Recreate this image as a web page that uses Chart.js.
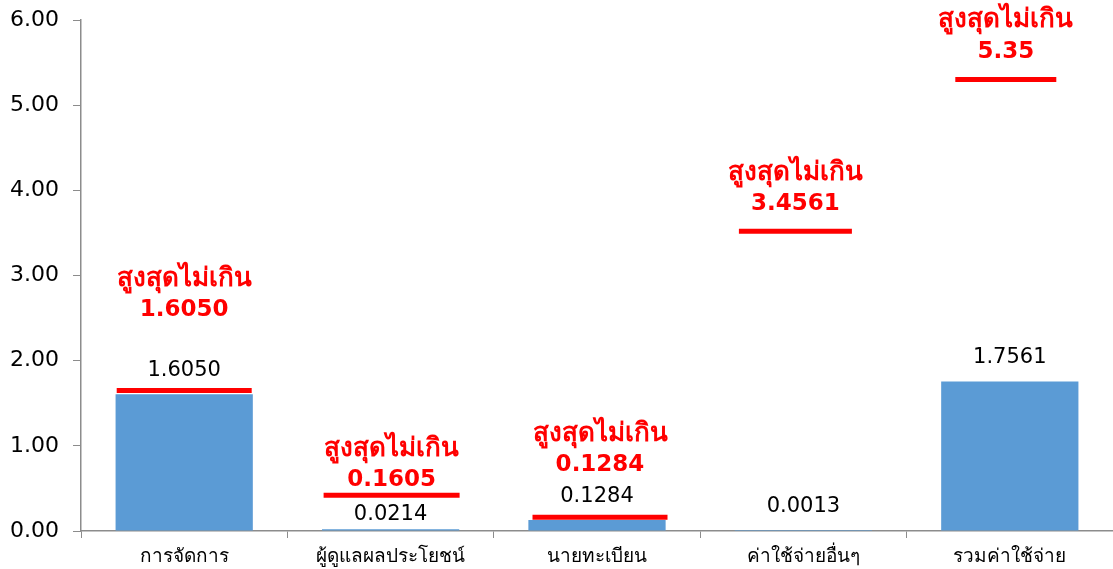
<!DOCTYPE html>
<html>
<head>
<meta charset="utf-8">
<script src="https://cdn.jsdelivr.net/npm/chart.js@4.4.1/dist/chart.umd.min.js"></script>
<style>
  html, body { margin: 0; padding: 0; background: #fff; }
  #wrap { width: 1113px; height: 569px; }
</style>
</head>
<body>
<div id="wrap"><canvas id="fee-chart"></canvas></div>
<script>
const categories = ["การจัดการ", "ผู้ดูแลผลประโยชน์", "นายทะเบียน", "ค่าใช้จ่ายอื่นๆ", "รวมค่าใช้จ่าย"];
const actualFees = [1.6050, 0.0214, 0.1284, 0.0013, 1.7561];
const feeCaps = ["1.6050", "0.1605", "0.1284", "3.4561", "5.35"];
// where the red cap marks sit on the y scale
const capMarkLevel = [1.65, 0.42, 0.16, 3.52, 5.30];
const yTicks = [0, 1, 2, 3, 4, 5, 6];
const capLabel = "สูงสุดไม่เกิน";

// look of the marks
const capLineWidth = [135, 136, 135, 113, 101];
const capLineShift = [0, 1, 3, -8, -4];
const capTextLift = [80, 15, 52, 27, 28];
const valueLift = [24, 15, 24, 24, 24];

const FONT = "Tahoma, 'DejaVu Sans', sans-serif";
const AXIS_GREY = "#8c8c8c";

const capMarks = {
    id: "capMarks",
    afterDatasetsDraw(chart) {
        const ctx = chart.ctx;
        const x = chart.scales.x;
        const y = chart.scales.y;
        const bars = chart.getDatasetMeta(0).data;
        ctx.save();
        ctx.textAlign = "center";
        ctx.textBaseline = "middle";

        ctx.fillStyle = "#000";
        ctx.font = "21px " + FONT;
        bars.forEach((bar, i) => {
            ctx.fillText(actualFees[i].toFixed(4), bar.x, bar.y - valueLift[i]);
        });

        categories.forEach((c, i) => {
            const cx = x.getPixelForValue(i) + capLineShift[i];
            const ly = y.getPixelForValue(capMarkLevel[i]);
            const w = capLineWidth[i];
            ctx.strokeStyle = "#ff0000";
            ctx.lineWidth = 5;
            ctx.beginPath();
            ctx.moveTo(cx - w / 2, ly);
            ctx.lineTo(cx + w / 2, ly);
            ctx.stroke();

            ctx.fillStyle = "#ff0000";
            ctx.font = "bold 23px " + FONT;
            ctx.fillText(feeCaps[i], cx, ly - capTextLift[i]);
            ctx.font = "bold 26px " + FONT;
            ctx.fillText(capLabel, cx, ly - capTextLift[i] - 31);
        });
        ctx.restore();
    }
};

new Chart(document.getElementById("fee-chart"), {
    type: "bar",
    data: {
        labels: categories,
        datasets: [{
            data: actualFees,
            backgroundColor: "#5b9bd5",
            barPercentage: 0.665,
            categoryPercentage: 1,
        }],
    },
    options: {
        responsive: true,
        maintainAspectRatio: false,
        animation: false,
        layout: { padding: { top: 20, right: -4, left: 0, bottom: 0 } },
        plugins: {
            legend: { display: false },
            tooltip: { enabled: false },
        },
        scales: {
            x: {
                grid: { drawOnChartArea: false, tickLength: 7, color: AXIS_GREY, offset: true },
                border: { color: AXIS_GREY, width: 1.5 },
                ticks: { color: "#000", font: { size: 19, family: FONT }, padding: 8 },
                afterFit(scale) { scale.height = 38; },
            },
            y: {
                min: 0,
                max: 6,
                afterBuildTicks(scale) { scale.ticks = yTicks.map(v => ({ value: v })); },
                ticks: {
                    color: "#000",
                    font: { size: 22, family: FONT },
                    padding: 14,
                    callback: v => Number(v).toFixed(2),
                },
                grid: { drawOnChartArea: false, tickLength: 8, color: AXIS_GREY },
                border: { color: AXIS_GREY, width: 1.5 },
                afterFit(scale) {
                    scale.width = 81;
                    scale.paddingTop = 0;
                    scale.paddingBottom = 0;
                },
            },
        },
    },
    plugins: [capMarks],
});
</script>
</body>
</html>
